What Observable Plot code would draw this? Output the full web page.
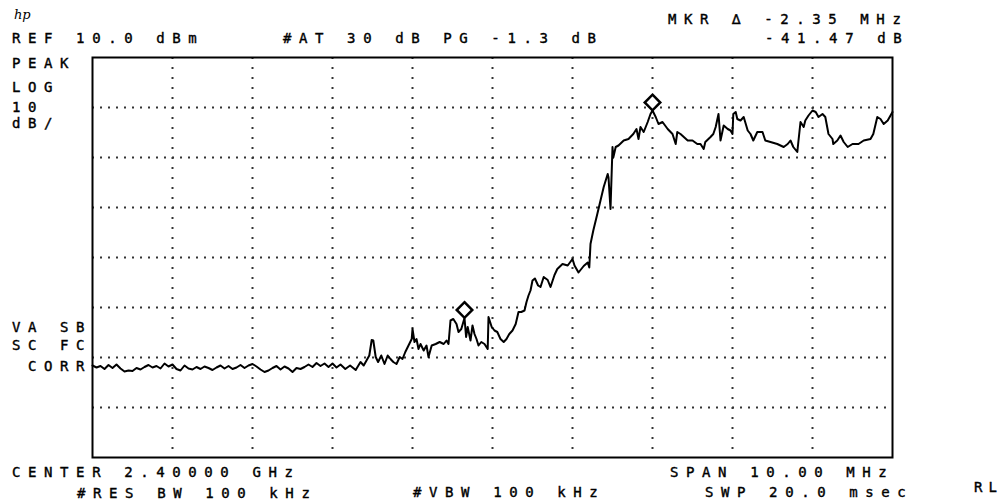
<!DOCTYPE html>
<html>
<head>
<meta charset="utf-8">
<script src="https://cdn.jsdelivr.net/npm/d3@7"></script>
<script src="https://cdn.jsdelivr.net/npm/@observablehq/plot@0.6"></script>
<style>
  html, body { margin: 0; padding: 0; background: white; }
  #chart svg text.lbl { font-family: "DejaVu Sans Mono", monospace; font-size: 14px; letter-spacing: 7.6px; fill: #000; stroke: #000; stroke-width: 0.4px; text-anchor: start; }
</style>
</head>
<body>
<div id="chart"></div>
<script>
// Frequency offsets from centre 2.40000 GHz (MHz) and levels (dBm)
const noiseFreq = [
  -5.00,-4.95,-4.90,-4.85,-4.80,-4.75,-4.70,-4.65,-4.60,-4.55,
  -4.50,-4.45,-4.40,-4.35,-4.30,-4.25,-4.20,-4.15,-4.10,-4.05,
  -4.00,-3.95,-3.90,-3.85,-3.80,-3.75,-3.70,-3.65,-3.60,-3.55,
  -3.50,-3.45,-3.40,-3.35,-3.30,-3.25,-3.20,-3.15,-3.10,-3.05,
  -3.00,-2.95,-2.90,-2.85,-2.80,-2.75,-2.70,-2.65,-2.60,-2.55,
  -2.50,-2.45,-2.40,-2.35,-2.30,-2.25,-2.20,-2.15,-2.10,-2.05,
  -2.00,-1.95,-1.90
];
const noiseLevel = [
  -51.6,-52.0,-51.7,-52.3,-51.5,-52.1,-51.4,-52.2,-52.8,-52.6,
  -52.7,-52.1,-52.4,-51.9,-51.5,-52.0,-51.7,-52.2,-51.2,-51.8,
  -51.4,-52.3,-52.6,-51.6,-52.2,-52.4,-51.9,-52.3,-51.8,-52.1,
  -52.5,-52.0,-51.6,-52.2,-51.7,-52.3,-52.0,-51.5,-52.1,-51.6,
  -51.3,-51.8,-52.4,-52.9,-52.6,-52.1,-51.7,-52.4,-51.8,-52.2,
  -52.9,-52.1,-52.3,-51.9,-51.4,-51.9,-51.1,-51.7,-51.2,-51.9,
  -51.2,-52.0,-51.4
];
const signalFreq = [
  -1.84,-1.78,-1.71,-1.65,-1.61,-1.575,-1.54,-1.51,-1.49,-1.46,
  -1.43,-1.39,-1.35,-1.31,-1.275,-1.24,-1.20,-1.16,-1.125,-1.09,
  -1.05,-1.01,-1.00,-0.975,-0.95,-0.925,-0.90,-0.86,-0.825,-0.80,
  -0.76,-0.71,-0.66,-0.61,-0.575,-0.55,-0.525,-0.49,-0.45,-0.425,
  -0.39,-0.35,-0.33,-0.31,-0.275,-0.25,-0.225,-0.20,-0.175,-0.14,
  -0.10,-0.06,-0.05,-0.01,0.025,0.06,0.10,0.14,0.175,0.21,
  0.25,0.29,0.325,0.36,0.40,0.425,0.45,0.475,0.50,0.53,
  0.57,0.60,0.64,0.69,0.725,0.775,0.81,0.875,0.94,1.00,
  1.025,1.075,1.14,1.19,1.21,1.225,1.26,1.31,1.35,1.39,
  1.44,1.45,1.475,1.50,1.51,1.54,1.575,1.64,1.70,1.76,
  1.80,1.825,1.85,1.89,1.94,1.975,2.00,2.04,2.075,2.125,
  2.19,2.25,2.29,2.31,2.35,2.44,2.50,2.56,2.60,2.64,
  2.66,2.725,2.76,2.79,2.825,2.85,2.89,2.94,2.975,3.00,
  3.01,3.04,3.06,3.10,3.14,3.19,3.225,3.26,3.31,3.375,
  3.41,3.475,3.56,3.64,3.69,3.725,3.76,3.81,3.825,3.85,
  3.89,3.91,3.95,4.00,4.04,4.075,4.125,4.16,4.20,4.25,
  4.26,4.31,4.35,4.39,4.44,4.50,4.575,4.64,4.725,4.76,
  4.81,4.85,4.89,4.94,5.00
];
const signalLevel = [
  -52.3,-51.6,-52.5,-50.9,-51.6,-50.6,-49.6,-46.5,-46.6,-49.9,
  -50.9,-49.6,-51.3,-49.6,-50.3,-50.9,-51.3,-49.9,-50.3,-48.9,
  -47.6,-46.3,-44.3,-46.9,-46.3,-48.3,-47.3,-48.6,-47.6,-49.9,
  -47.6,-47.3,-46.9,-47.3,-46.6,-47.3,-42.6,-42.3,-43.3,-44.9,
  -44.3,-42.1,-45.9,-43.9,-46.6,-43.6,-45.3,-46.3,-47.6,-46.9,
  -47.3,-48.3,-41.9,-43.9,-44.6,-44.9,-46.3,-46.9,-46.3,-45.3,
  -44.6,-43.3,-40.9,-40.9,-40.6,-38.9,-37.6,-36.6,-34.6,-34.2,
  -35.6,-35.9,-33.9,-34.5,-35.9,-33.5,-32.3,-31.3,-31.6,-30.3,
  -31.6,-33.0,-31.7,-31.0,-32.0,-27.3,-24.6,-21.3,-18.6,-15.9,
  -13.3,-14.0,-20.3,-7.9,-10.0,-7.9,-7.6,-6.6,-6.3,-5.3,
  -4.3,-6.3,-3.9,-4.9,-2.9,-1.3,-0.6,-1.9,-3.3,-2.9,
  -4.3,-5.3,-7.3,-4.9,-5.3,-6.6,-6.6,-7.3,-7.3,-8.3,
  -6.9,-5.9,-5.3,-3.9,-1.3,-6.6,-3.6,-4.3,-4.6,-5.3,
  -1.3,-0.9,-2.3,-2.6,-1.9,-4.6,-5.3,-6.6,-4.9,-4.9,
  -6.6,-6.9,-7.3,-7.9,-7.3,-6.6,-7.9,-8.9,-6.6,-2.9,
  -3.9,-2.6,-1.6,-0.6,-0.9,-1.9,-1.3,-1.9,-5.3,-6.3,
  -7.3,-6.6,-5.6,-6.9,-7.9,-7.3,-7.3,-6.6,-6.3,-5.3,
  -1.9,-2.3,-3.3,-2.6,-0.9
];
const markerFreq = [2.00, -0.35];
const markerLevel = [-0.6, -42.1];
const gridFreq = [-4, -3, -2, -1, 0, 1, 2, 3, 4];
const gridLevel = [0, -10, -20, -30, -40, -50, -60];

const labels = [
  {t: "REF 10.0 dBm", x: 12, y: 43},
  {t: "#AT 30 dB PG -1.3 dB", x: 283, y: 43},
  {t: "MKR \u2206 -2.35 MHz", x: 668, y: 24},
  {t: "-41.47 dB", x: 765, y: 43},
  {t: "PEAK", x: 12, y: 68},
  {t: "LOG", x: 12, y: 92},
  {t: "10", x: 12, y: 112},
  {t: "dB/", x: 12, y: 128},
  {t: "VA SB", x: 12, y: 332},
  {t: "SC FC", x: 12, y: 350},
  {t: "CORR", x: 28, y: 371},
  {t: "CENTER 2.40000 GHz", x: 12, y: 477},
  {t: "#RES BW 100 kHz", x: 77, y: 498},
  {t: "#VBW 100 kHz", x: 413, y: 497},
  {t: "SPAN 10.00 MHz", x: 670, y: 477},
  {t: "SWP 20.0 msec", x: 705, y: 497}
];

const trace = noiseFreq.map((f, i) => ({f, level: noiseLevel[i]}))
  .concat(signalFreq.map((f, i) => ({f, level: signalLevel[i]})));
const markers = markerFreq.map((f, i) => ({f, level: markerLevel[i]}));

const svg = Plot.plot({
  width: 1005,
  height: 503,
  marginLeft: 92,
  marginRight: 113,
  marginTop: 57,
  marginBottom: 46,
  x: {domain: [-5, 5], axis: null},
  y: {domain: [-70, 10], axis: null},
  style: {background: "white", overflow: "visible"},
  marks: [
    Plot.ruleX(gridFreq, {stroke: "#333", strokeWidth: 2, strokeDasharray: "2,8"}),
    Plot.ruleY(gridLevel, {stroke: "#333", strokeWidth: 2, strokeDasharray: "2,6"}),
    Plot.line(trace, {x: "f", y: "level", stroke: "black", strokeWidth: 2}),
    Plot.dot(markers, {x: "f", y: "level", symbol: "diamond2", r: 7, stroke: "black", strokeWidth: 2.5, fill: "white", dy: -8}),
    Plot.frame({stroke: "black", strokeWidth: 2})
  ]
});

const s = d3.select(svg);
s.selectAll("text.lbl").data(labels).join("text")
  .attr("class", "lbl")
  .attr("text-anchor", "start")
  .attr("x", d => d.x).attr("y", d => d.y)
  .text(d => d.t);
s.append("text")
  .attr("class", "lbl")
  .attr("text-anchor", "start")
  .attr("x", 974).attr("y", 492)
  .style("letter-spacing", "6px")
  .text("RL");
s.append("text")
  .attr("x", 14).attr("y", 19)
  .attr("text-anchor", "start")
  .attr("font-family", "DejaVu Serif")
  .attr("font-style", "italic")
  .attr("font-size", 13)
  .attr("fill", "#000")
  .text("hp");
document.getElementById("chart").appendChild(svg);
</script>
</body>
</html>
